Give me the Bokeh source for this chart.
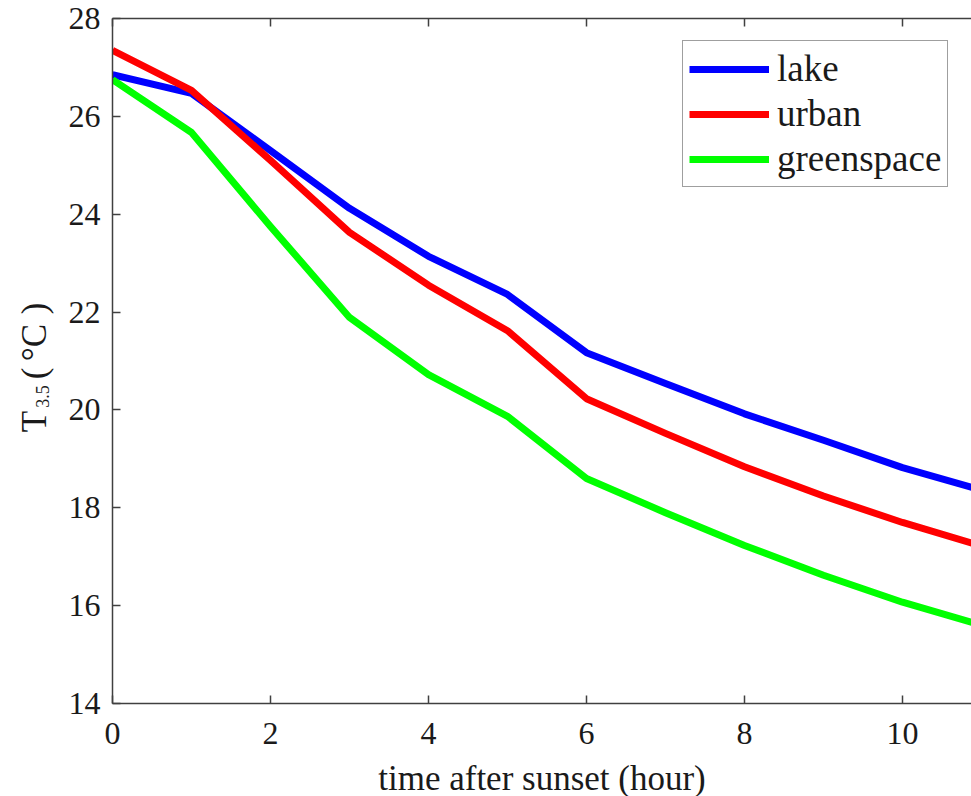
import math
from bokeh.plotting import figure
from bokeh.layouts import row
from bokeh.models import Range1d, LinearAxis, Label, FixedTicker, Legend, LegendItem
from bokeh.embed import file_html
from bokeh.resources import INLINE

# ---- data ----
hours = [0, 1, 2, 3, 4, 5, 6, 7, 8, 9, 10, 11]
lake = [26.85, 26.47, 25.30, 24.12, 23.14, 22.36, 21.17, 20.54, 19.92, 19.38, 18.82, 18.36]
urban = [27.35, 26.53, 25.10, 23.63, 22.55, 21.62, 20.23, 19.52, 18.84, 18.24, 17.70, 17.22]
greenspace = [26.75, 25.67, 23.75, 21.89, 20.72, 19.87, 18.60, 17.90, 17.23, 16.62, 16.07, 15.60]
x_ticks = [0, 2, 4, 6, 8, 10]
y_ticks = [14, 16, 18, 20, 22, 24, 26, 28]

# ---- geometry ----
LABEL_W = 60            # width of the strip holding the y-axis title
FRAME_W, FRAME_H = 859, 685
LEFT, TOP = 52, 18      # main figure borders (frame starts at 60 + 52 = 112)
PX_PER_HOUR = 79.0
X_MAX = FRAME_W / PX_PER_HOUR
Y_MIN, Y_MAX = 14, 28
PAGE_H = 796

FONT = "Liberation Serif"
AX_COLOR = "#404040"
TXT_COLOR = "#1a1a1a"

p = figure(frame_width=FRAME_W, frame_height=FRAME_H,
           x_range=Range1d(0, X_MAX), y_range=Range1d(Y_MIN, Y_MAX),
           output_backend="svg", toolbar_location=None,
           min_border_left=LEFT, min_border_top=TOP, min_border_right=0,
           min_border_bottom=0)
p.outline_line_color = None
p.grid.visible = False
p.background_fill_color = "white"
p.border_fill_color = "white"

for ax in (p.xaxis[0], p.yaxis[0]):
    ax.axis_line_color = AX_COLOR
    ax.axis_line_width = 1.5
    ax.major_tick_line_color = AX_COLOR
    ax.major_tick_line_width = 1.5
    ax.major_tick_in = 8
    ax.major_tick_out = 0
    ax.minor_tick_line_color = None
    ax.major_label_text_font = FONT
    ax.major_label_text_font_size = "32px"
    ax.major_label_text_color = TXT_COLOR

p.xaxis[0].major_label_standoff = 19
p.yaxis[0].major_label_standoff = 12
p.xaxis[0].ticker = FixedTicker(ticks=x_ticks)
p.yaxis[0].ticker = FixedTicker(ticks=y_ticks)
p.xaxis[0].axis_label = "time after sunset (hour)"
p.xaxis[0].axis_label_text_font = FONT
p.xaxis[0].axis_label_text_font_size = "35px"
p.xaxis[0].axis_label_text_font_style = "normal"
p.xaxis[0].axis_label_text_color = TXT_COLOR
p.xaxis[0].axis_label_standoff = 12

top_ax = LinearAxis(ticker=FixedTicker(ticks=x_ticks))
top_ax.axis_line_color = AX_COLOR
top_ax.axis_line_width = 1.5
top_ax.major_tick_line_color = AX_COLOR
top_ax.major_tick_line_width = 1.5
top_ax.major_tick_in = 8
top_ax.major_tick_out = 0
top_ax.minor_tick_line_color = None
top_ax.major_label_text_color = None
top_ax.major_label_text_font_size = "1px"
top_ax.major_label_standoff = 0
p.add_layout(top_ax, "above")

r1 = p.line(hours, lake, line_color="#0000ff", line_width=7, line_join="round")
r2 = p.line(hours, urban, line_color="#ff0000", line_width=7, line_join="round")
r3 = p.line(hours, greenspace, line_color="#00ff00", line_width=7, line_join="round")

legend = Legend(items=[LegendItem(label="lake", renderers=[r1]),
                       LegendItem(label="urban", renderers=[r2]),
                       LegendItem(label="greenspace", renderers=[r3])],
                location=(570, 516))
legend.glyph_width = 80
legend.glyph_height = 38
legend.label_height = 38
legend.label_standoff = 8
legend.padding = 6
legend.spacing = 2
legend.margin = 0
legend.border_line_color = AX_COLOR
legend.border_line_width = 1.5
legend.background_fill_color = "white"
legend.label_text_font = FONT
legend.label_text_font_size = "37px"
legend.label_text_color = TXT_COLOR
legend.label_text_baseline = "middle"
p.add_layout(legend, "center")

# ---- strip on the left carrying the y-axis title "T_3.5 (°C)" ----
# its data units equal strip pixels (y grows downwards)
t = figure(frame_width=LABEL_W, frame_height=PAGE_H,
           x_range=Range1d(0, LABEL_W), y_range=Range1d(PAGE_H, 0),
           output_backend="svg", toolbar_location=None,
           min_border=0)
t.axis.visible = False
t.grid.visible = False
t.outline_line_color = None
t.background_fill_color = "white"
t.border_fill_color = "white"

rot = math.pi / 2
BASE = 34
SHIFT = -15
def ylab(text, x, y, size):
    t.add_layout(Label(x=x, y=y + SHIFT, text=text, angle=rot,
                       text_font=FONT, text_font_size=size, text_color=TXT_COLOR,
                       text_align="center", text_baseline="alphabetic"))

ylab("T", BASE, 418, "35px")
ylab("3.5", BASE + 8, 393, "18px")
ylab("(", BASE, 370, "35px")
ylab("°C", BASE, 339, "35px")
ylab(")", BASE, 305, "35px")

layout = row(t, p, spacing=0)
open("out.html", "w").write(file_html(layout, INLINE))
